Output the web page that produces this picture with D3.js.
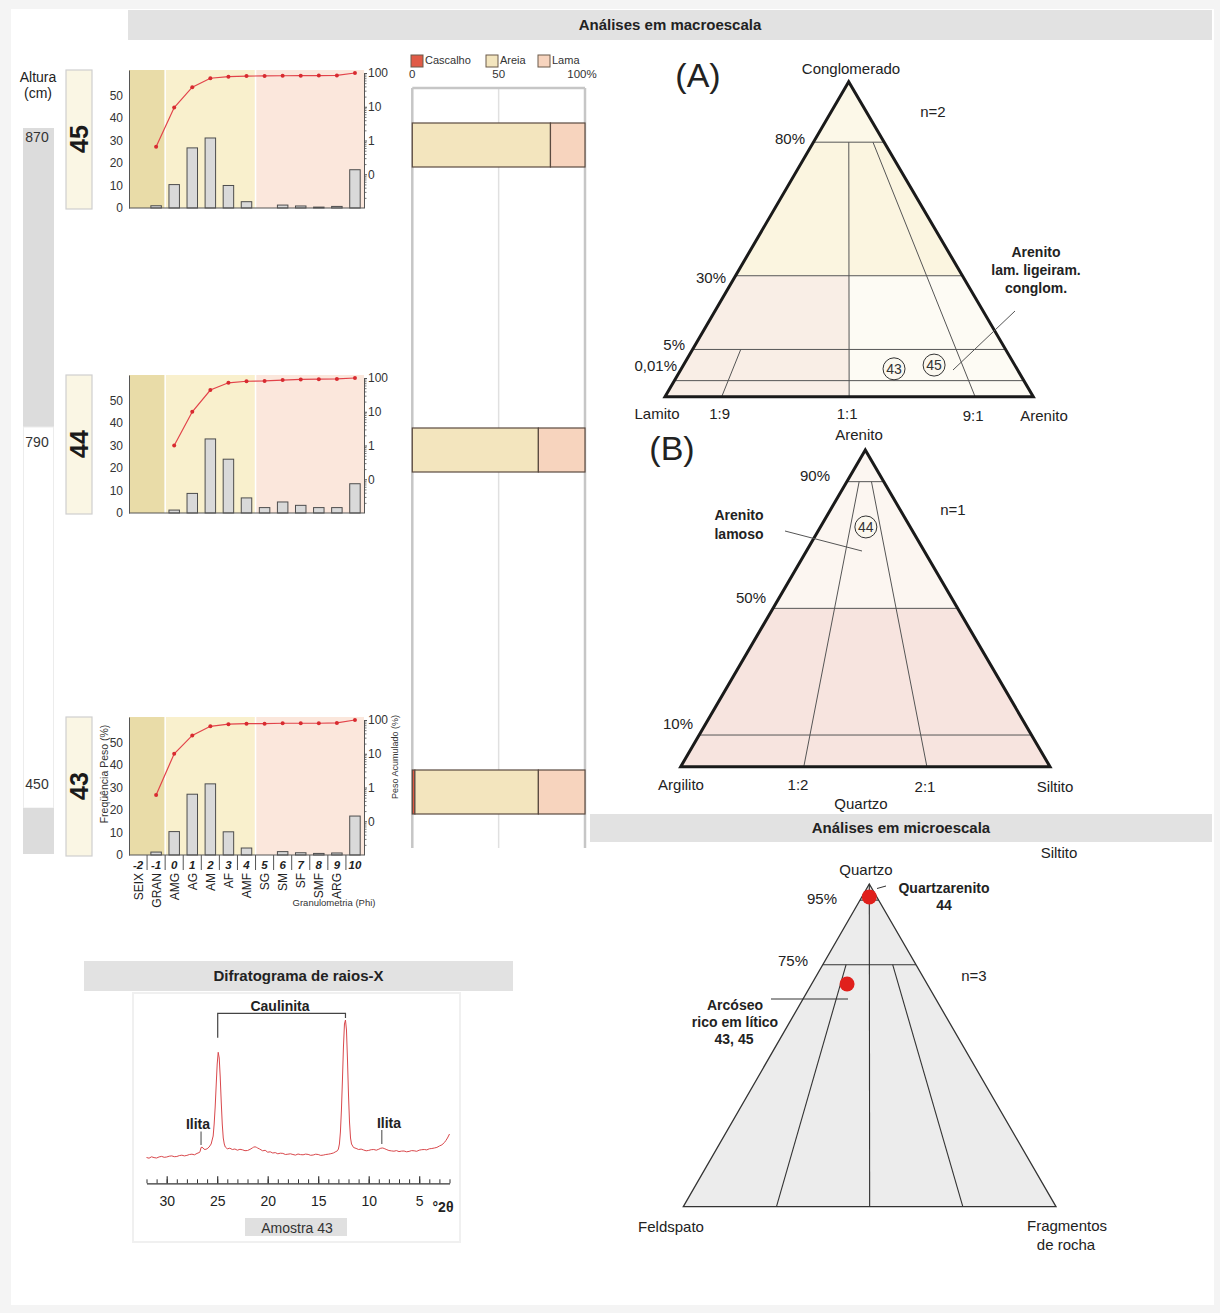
<!DOCTYPE html>
<html>
<head>
<meta charset="utf-8">
<script src="https://cdn.jsdelivr.net/npm/d3@7"></script>
<style>
  body { margin: 0; background: #f4f4f4; }
  svg { display: block; font-family: "Liberation Sans", Arial, sans-serif; }
</style>
</head>
<body>
<svg id="fig" width="1220" height="1313"></svg>
<script>
// ---------- Granulometria ----------
const phiClasses = [-2, -1, 0, 1, 2, 3, 4, 5, 6, 7, 8, 9, 10];
const classNames = ["SEIX", "GRAN", "AMG", "AG", "AM", "AF", "AMF", "SG", "SM", "SF", "SMF", "ARG", ""];
const sampleIds = ["45", "44", "43"];
const sampleHeights = [870, 790, 450];

// Frequência em peso (%) por classe phi
const freq45 = [0, 1.0, 10.4, 26.7, 31.1, 10.0, 2.8, 0, 1.3, 0.9, 0.4, 0.7, 17.0];
const freq44 = [0, 0, 1.3, 8.7, 32.9, 23.9, 6.7, 2.4, 4.9, 3.4, 2.4, 2.4, 13.0];
const freq43 = [0, 1.3, 10.4, 27.0, 31.6, 10.3, 3.1, 0, 1.5, 1.0, 0.7, 0.9, 17.3];

// Peso acumulado (%) por classe phi
const cum45 = [null, 0.65, 9.5, 38, 70, 78, 81, 82, 83, 83.5, 84, 85, 100];
const cum44 = [null, null, 1.0, 10, 44, 72, 80, 82, 87, 91, 92, 94, 100];
const cum43 = [null, 0.6, 10, 35, 65, 75, 78, 78, 80, 80, 80, 82, 100];

const freqTicks = [0, 10, 20, 30, 40, 50];
const cumTicks = [0.1, 1, 10, 100];
const cumTickLabels = ["0", "1", "10", "100"];

// Proporções texturais (%)
const texClasses = ["Cascalho", "Areia", "Lama"];
const cascalho = [0, 0, 1.5];
const areia = [80, 73, 71.5];
const lama = [20, 27, 27];
const texTicks = [0, 50, 100];
const texTickLabels = ["0", "50", "100%"];

// Diagrama (A): cascalho / areia / lama
const triASamples = ["43", "45"];
const triAGravel = [1.9, 2.5];
const triASand = [64.4, 78.0];
const triAMud = [33.7, 19.5];
const triALevels = [80, 30, 5, 0.01];
const triALevelLabels = ["80%", "30%", "5%", "0,01%"];
const triARatios = [0.1, 0.5, 0.9];
const triARatioLabels = ["1:9", "1:1", "9:1"];

// Diagrama (B): areia / silte / argila
const triBSamples = ["44"];
const triBSand = [75.7];
const triBSilt = [12.3];
const triBClay = [12.0];
const triBLevels = [90, 50, 10];
const triBLevelLabels = ["90%", "50%", "10%"];
const triBRatios = [1 / 3, 2 / 3];
const triBRatioLabels = ["1:2", "2:1"];

// Diagrama QFR (microescala)
const qfrNames = ["Quartzarenito 44", "Arcóseo rico em lítico 43, 45"];
const qfrQ = [96, 69];
const qfrF = [2, 21.5];
const qfrR = [2, 9.5];
const qfrLevels = [95, 75];
const qfrLevelLabels = ["95%", "75%"];
const qfrRatios = [0.25, 0.5, 0.75];

// Difratograma (Amostra 43): °2θ e intensidade (u.a.)
const xrdTheta = [
  32.0, 31.75, 31.5, 31.25, 31.0, 30.75, 30.5, 30.25, 30.0, 29.75, 29.5, 29.25, 29.0, 28.75, 28.5, 28.25,
  28.0, 27.75, 27.5, 27.25, 27.0, 26.8, 26.7, 26.6, 26.5, 26.4, 26.3, 26.2, 26.0, 25.8, 25.6, 25.4,
  25.3, 25.2, 25.1, 25.0, 24.9, 24.8, 24.7, 24.6, 24.5, 24.4, 24.3, 24.2, 24.0, 23.75, 23.5, 23.25,
  23.0, 22.75, 22.5, 22.25, 22.0, 21.75, 21.5, 21.4, 21.25, 21.1, 21.0, 20.8, 20.5, 20.25, 20.0, 19.75,
  19.5, 19.25, 19.0, 18.75, 18.5, 18.25, 18.0, 17.75, 17.5, 17.25, 17.0, 16.75, 16.5, 16.25, 16.0, 15.75,
  15.5, 15.25, 15.0, 14.75, 14.5, 14.25, 14.0, 13.75, 13.5, 13.25, 13.1, 13.0, 12.9, 12.8, 12.7, 12.6,
  12.5, 12.4, 12.3, 12.2, 12.1, 12.0, 11.9, 11.8, 11.7, 11.5, 11.25, 11.0, 10.75, 10.5, 10.25, 10.0,
  9.75, 9.5, 9.25, 9.0, 8.8, 8.6, 8.4, 8.2, 8.0, 7.75, 7.5, 7.25, 7.0, 6.75, 6.5, 6.25,
  6.0, 5.75, 5.5, 5.25, 5.0, 4.75, 4.5, 4.25, 4.0, 3.75, 3.5, 3.25, 3.0, 2.75, 2.5, 2.35,
  2.2, 2.0];
const xrdCounts = [
  425, 418, 432, 424, 420, 431, 436, 427, 430, 438, 441, 433, 435, 444, 448, 441,
  446, 455, 458, 452, 466, 474, 482, 525, 528, 520, 508, 505, 512, 530, 560, 640,
  760, 930, 1150, 1360, 1477, 1420, 1230, 980, 760, 620, 560, 530, 512, 518, 505, 510,
  498, 507, 502, 493, 495, 506, 522, 528, 532, 526, 520, 510, 492, 497, 478, 482,
  470, 474, 462, 468, 466, 455, 458, 462, 455, 449, 460, 454, 452, 459, 456, 447,
  450, 458, 455, 446, 449, 455, 458, 463, 470, 484, 492, 510, 560, 680, 900, 1200,
  1530, 1760, 1800, 1700, 1400, 1050, 780, 620, 560, 525, 516, 505, 509, 500, 492, 496,
  503, 505, 498, 508, 518, 520, 512, 503, 495, 491, 488, 494, 484, 489, 490, 482,
  486, 494, 492, 487, 498, 503, 505, 501, 512, 515, 520, 526, 540, 552, 575, 596,
  620, 660];
const xrdMajorTicks = [30, 25, 20, 15, 10, 5];

// ---------- Drawing ----------
const svg = d3.select("#fig");
const FONT_COLOR = "#222";

svg.append("rect").attr("x", 11).attr("y", 9).attr("width", 1203).attr("height", 1296).attr("fill", "#fff");

function header(x, y, w, h, label) {
  svg.append("rect").attr("x", x).attr("y", y).attr("width", w).attr("height", h).attr("fill", "#e2e2e2");
  svg.append("text").attr("x", x + w / 2).attr("y", y + h / 2 + 5).attr("text-anchor", "middle")
    .attr("font-size", 15).attr("font-weight", "bold").attr("fill", FONT_COLOR).text(label);
}
header(128, 10, 1084, 30, "Análises em macroescala");
header(590, 814, 622, 28, "Análises em microescala");
header(84, 961, 429, 30, "Difratograma de raios-X");

function label(x, y, txt, opts = {}) {
  return svg.append("text").attr("x", x).attr("y", y)
    .attr("text-anchor", opts.anchor || "middle")
    .attr("font-size", opts.size || 15)
    .attr("font-weight", opts.bold ? "bold" : "normal")
    .attr("fill", opts.color || FONT_COLOR)
    .text(txt);
}

// ----- coluna de altura -----
label(38, 82, "Altura", { size: 14 });
label(38, 98, "(cm)", { size: 14 });
const col = svg.append("g");
col.append("rect").attr("x", 23).attr("y", 128).attr("width", 31).attr("height", 299).attr("fill", "#dcdcdc");
col.append("rect").attr("x", 23.5).attr("y", 427).attr("width", 30).attr("height", 381)
  .attr("fill", "#fff").attr("stroke", "#ececec");
col.append("rect").attr("x", 23).attr("y", 808).attr("width", 31).attr("height", 46).attr("fill", "#dcdcdc");

// ----- histogramas -----
const panelTops = [70, 375, 717];
const panelH = 138;
const freqSeries = [freq45, freq44, freq43];
const cumSeries = [cum45, cum44, cum43];

const x = d3.scaleBand().domain(phiClasses).range([129, 364]).paddingInner(0.42).paddingOuter(0.21);
const step = x.step();
const xc = p => x(p) + x.bandwidth() / 2;

sampleIds.forEach((id, i) => {
  const top = panelTops[i];
  const base = top + panelH;
  const g = svg.append("g");

  // altura da amostra
  label(37, top + 72, String(sampleHeights[i]), { size: 14, color: "#333" });

  // caixa com número da amostra
  g.append("rect").attr("x", 66).attr("y", top).attr("width", 26).attr("height", panelH + 1)
    .attr("fill", "#faf6e4").attr("stroke", "#cfcfcf").attr("stroke-width", 1.2);
  g.append("text").attr("transform", `translate(88,${top + panelH / 2}) rotate(-90)`)
    .attr("text-anchor", "middle").attr("font-size", 25).attr("font-weight", "bold")
    .attr("fill", "#1a1a1a").text(id);

  const y = d3.scaleLinear().domain([0, 61.3]).range([base, top]);
  const yLog = d3.scaleLog().domain([0.01, 100]).range([base, top + 3]);

  // faixas: cascalho / areia / lama
  const x0 = x.range()[0];
  g.append("rect").attr("x", x0).attr("y", top).attr("width", 2 * step).attr("height", panelH).attr("fill", "#e9dca8");
  g.append("rect").attr("x", x0 + 2 * step).attr("y", top).attr("width", 5 * step).attr("height", panelH).attr("fill", "#f9f0cd");
  g.append("rect").attr("x", x0 + 7 * step).attr("y", top).attr("width", 6 * step).attr("height", panelH).attr("fill", "#fbe7dc");
  [2, 7].forEach(k => g.append("line").attr("x1", x0 + k * step).attr("x2", x0 + k * step)
    .attr("y1", top).attr("y2", base).attr("stroke", "#fff").attr("stroke-width", 1.5));

  // barras
  g.selectAll("rect.bar").data(phiClasses.map((p, j) => ({ p, v: freqSeries[i][j] })).filter(d => d.v > 0))
    .join("rect").attr("class", "bar")
    .attr("x", d => x(d.p)).attr("width", x.bandwidth())
    .attr("y", d => y(d.v)).attr("height", d => base - y(d.v))
    .attr("fill", "#d9d9d9").attr("stroke", "#4d4d4d").attr("stroke-width", 1);

  // curva acumulada
  const cumPts = phiClasses.map((p, j) => ({ p, v: cumSeries[i][j] })).filter(d => d.v != null);
  g.append("path").datum(cumPts)
    .attr("d", d3.line().x(d => xc(d.p)).y(d => yLog(d.v)))
    .attr("fill", "none").attr("stroke", "#e2434a").attr("stroke-width", 1.2);
  g.selectAll("circle.cum").data(cumPts).join("circle").attr("class", "cum")
    .attr("cx", d => xc(d.p)).attr("cy", d => yLog(d.v)).attr("r", 2).attr("fill", "#d82b30");

  // eixo esquerdo (frequência)
  const axL = g.append("g").attr("transform", `translate(${x0},0)`)
    .call(d3.axisLeft(y).tickValues(freqTicks).tickSize(0).tickPadding(6).tickSizeOuter(0));
  axL.select(".domain").attr("stroke", "#555");
  axL.selectAll("text").attr("font-size", 12).attr("fill", "#333").attr("font-family", "Liberation Sans, Arial");

  // eixo direito (acumulado, log)
  const xr = x.range()[1];
  const minor = [];
  [0.01, 0.1, 1, 10].forEach(d => { for (let k = 2; k <= 9; k++) minor.push(d * k); });
  const axM = g.append("g").attr("transform", `translate(${xr},0)`)
    .call(d3.axisRight(yLog).tickValues(minor).tickSize(2.5).tickFormat(""));
  axM.select(".domain").remove();
  axM.selectAll("line").attr("stroke", "#777");
  const axR = g.append("g").attr("transform", `translate(${xr},0)`)
    .call(d3.axisRight(yLog).tickValues(cumTicks).tickSize(3).tickPadding(1)
      .tickFormat((d, k) => cumTickLabels[k]).tickSizeOuter(0));
  axR.select(".domain").attr("stroke", "#555");
  axR.selectAll("line").attr("stroke", "#555");
  axR.selectAll("text").attr("font-size", 12).attr("fill", "#333").attr("font-family", "Liberation Sans, Arial");

  // linha de base
  g.append("line").attr("x1", x0).attr("x2", xr).attr("y1", base).attr("y2", base)
    .attr("stroke", "#555").attr("stroke-width", 1);

  if (i === 2) {
    const ax = svg.append("g");
    for (let k = 1; k < phiClasses.length; k++) {
      ax.append("line").attr("x1", x0 + k * step).attr("x2", x0 + k * step)
        .attr("y1", base).attr("y2", base + 15).attr("stroke", "#555");
    }
    phiClasses.forEach((p, j) => {
      ax.append("text").attr("x", xc(p)).attr("y", base + 14).attr("text-anchor", "middle")
        .attr("font-size", 11.5).attr("font-weight", "bold").attr("font-style", "italic")
        .attr("fill", "#222").text(String(p));
      if (classNames[j]) {
        ax.append("text").attr("transform", `translate(${xc(p) + 4.5},${base + 18}) rotate(-90)`)
          .attr("text-anchor", "end").attr("font-size", 12).attr("fill", "#222").text(classNames[j]);
      }
    });
    ax.append("text").attr("x", 334).attr("y", 906).attr("text-anchor", "middle")
      .attr("font-size", 9.5).attr("fill", "#333").text("Granulometria (Phi)");
    ax.append("text").attr("transform", `translate(108,${top + 57}) rotate(-90)`)
      .attr("text-anchor", "middle").attr("font-size", 10.5).attr("fill", "#333").text("Freqüência Peso (%)");
    ax.append("text").attr("transform", `translate(398,${top + 40}) rotate(-90)`)
      .attr("text-anchor", "middle").attr("font-size", 9).attr("fill", "#333").text("Peso Acumulado (%)");
  }
});

// ----- barras texturais -----
const tx = d3.scaleLinear().domain([0, 100]).range([412.3, 585]);
const texColors = ["#e05a46", "#f3e5be", "#f7d4be"];
const tg = svg.append("g");
texTicks.forEach((t, k) => {
  tg.append("line").attr("x1", tx(t)).attr("x2", tx(t)).attr("y1", 88).attr("y2", 848)
    .attr("stroke", t === 50 ? "#e0e0e0" : "#c6c6c6").attr("stroke-width", t === 50 ? 1.5 : 2.5);
  tg.append("text").attr("x", tx(t) - (t === 100 ? 3 : 0)).attr("y", 78).attr("text-anchor", "middle")
    .attr("font-size", 11.5).attr("fill", "#333").text(texTickLabels[k]);
});
tg.append("line").attr("x1", tx(0)).attr("x2", tx(100)).attr("y1", 88).attr("y2", 88)
  .attr("stroke", "#c6c6c6").attr("stroke-width", 2.5);

const legendX = [411, 486, 538];
texClasses.forEach((c, k) => {
  tg.append("rect").attr("x", legendX[k]).attr("y", 55).attr("width", 12).attr("height", 12)
    .attr("fill", texColors[k]).attr("stroke", "#6b5a4a").attr("stroke-width", 1);
  tg.append("text").attr("x", legendX[k] + 14).attr("y", 64).attr("font-size", 11).attr("fill", "#333").text(c);
});

const texRows = sampleIds.map((id, i) => ({ id, Cascalho: cascalho[i], Areia: areia[i], Lama: lama[i] }));
const stacked = d3.stack().keys(texClasses)(texRows);
stacked.forEach((layer, k) => {
  tg.selectAll(null).data(layer.filter(d => d[1] - d[0] > 0)).join("rect")
    .attr("x", d => tx(d[0])).attr("width", d => tx(d[1]) - tx(d[0]))
    .attr("y", d => panelTops[sampleIds.indexOf(d.data.id)] + 53).attr("height", 44)
    .attr("fill", texColors[k]).attr("stroke", "#5a4a40").attr("stroke-width", 1.2);
});

// ----- triângulos -----
function triPoint(tri, t, b) {
  const bx = tri.L[0] + b * (tri.R[0] - tri.L[0]);
  const by = tri.L[1] + b * (tri.R[1] - tri.L[1]);
  return [bx + t * (tri.A[0] - bx), by + t * (tri.A[1] - by)];
}
const poly = pts => "M" + pts.map(p => p.join(",")).join("L") + "Z";
const seg = (a, b) => `M${a[0]},${a[1]}L${b[0]},${b[1]}`;

function circleLabel(p, txt) {
  svg.append("circle").attr("cx", p[0]).attr("cy", p[1]).attr("r", 11)
    .attr("fill", "#fbf8ef").attr("stroke", "#333").attr("stroke-width", 1);
  svg.append("text").attr("x", p[0]).attr("y", p[1] + 5).attr("text-anchor", "middle")
    .attr("font-size", 14).attr("fill", "#333").text(txt);
}

// (A) Cascalho-Areia-Lama (escala de cascalho não linear)
const triA = { A: [848.7, 81.7], L: [665, 396.7], R: [1033.3, 396.7] };
const gravelScale = d3.scaleLinear().domain([0, 0.01, 5, 30, 80, 100]).range([0, 0.051, 0.15, 0.384, 0.808, 1]);
const sandRatioScale = d3.scaleLinear().domain([0, 0.1, 0.5, 0.9, 1]).range([0, 0.154, 0.5, 0.842, 1]);
{
  const g = svg.append("g");
  const t80 = gravelScale(80), t30 = gravelScale(30), bMid = sandRatioScale(0.5);
  g.append("path").attr("d", poly([triPoint(triA, t80, 0), triA.A, triPoint(triA, t80, 1)])).attr("fill", "#fcf8e8");
  g.append("path").attr("d", poly([triPoint(triA, t30, 0), triPoint(triA, t80, 0), triPoint(triA, t80, 1), triPoint(triA, t30, 1)])).attr("fill", "#fbf5e0");
  g.append("path").attr("d", poly([triA.L, triPoint(triA, t30, 0), triPoint(triA, t30, bMid), triPoint(triA, 0, bMid)])).attr("fill", "#f9eee6");
  g.append("path").attr("d", poly([triPoint(triA, 0, bMid), triPoint(triA, t30, bMid), triPoint(triA, t30, 1), triA.R])).attr("fill", "#fdfbf4");

  triALevels.forEach(lv => {
    const t = gravelScale(lv);
    g.append("path").attr("d", seg(triPoint(triA, t, 0), triPoint(triA, t, 1))).attr("stroke", "#555").attr("stroke-width", 1);
  });
  const ratioStart = [5, 80, 80];
  triARatios.forEach((r, k) => {
    const b = sandRatioScale(r);
    g.append("path").attr("d", seg(triPoint(triA, gravelScale(ratioStart[k]), b), triPoint(triA, 0, b)))
      .attr("stroke", "#555").attr("stroke-width", 1);
    const bp = triPoint(triA, 0, b);
    label(bp[0] - 2, 419 + (k === 2 ? 2 : 0), triARatioLabels[k]);
  });
  g.append("path").attr("d", poly([triA.A, triA.L, triA.R])).attr("fill", "none")
    .attr("stroke", "#1a1a1a").attr("stroke-width", 3).attr("stroke-linejoin", "miter");

  const lvPos = [[805, 144], [726, 283], [685, 350], [677, 371]];
  triALevelLabels.forEach((t, k) => label(lvPos[k][0], lvPos[k][1], t, { anchor: "end" }));
  label(698, 87, "(A)", { size: 34 });
  label(851, 74, "Conglomerado");
  label(933, 117, "n=2");
  label(657, 419, "Lamito");
  label(1044, 421, "Arenito");
  label(1036, 257, "Arenito", { size: 14, bold: true });
  label(1036, 275, "lam. ligeiram.", { size: 14, bold: true });
  label(1036, 293, "conglom.", { size: 14, bold: true });
  svg.append("path").attr("d", "M1015,311L953,370").attr("stroke", "#555").attr("stroke-width", 1);

  triASamples.forEach((s, k) => {
    const tot = triASand[k] + triAMud[k];
    const p = triPoint(triA, gravelScale(triAGravel[k]), sandRatioScale(triASand[k] / tot));
    circleLabel(p, s);
  });
}

// (B) Areia-Silte-Argila
const triB = { A: [865.3, 450], L: [680.7, 766.7], R: [1050, 766.7] };
{
  const g = svg.append("g");
  const t50 = 0.5;
  g.append("path").attr("d", poly([triPoint(triB, t50, 0), triB.A, triPoint(triB, t50, 1)])).attr("fill", "#fcf6f1");
  g.append("path").attr("d", poly([triB.L, triPoint(triB, t50, 0), triPoint(triB, t50, 1), triB.R])).attr("fill", "#f7e4df");
  triBLevels.forEach(lv => {
    const t = lv / 100;
    g.append("path").attr("d", seg(triPoint(triB, t, 0), triPoint(triB, t, 1))).attr("stroke", "#555").attr("stroke-width", 1);
  });
  triBRatios.forEach((r, k) => {
    g.append("path").attr("d", seg(triPoint(triB, 0.9, r), triPoint(triB, 0, r))).attr("stroke", "#555").attr("stroke-width", 1);
  });
  g.append("path").attr("d", poly([triB.A, triB.L, triB.R])).attr("fill", "none")
    .attr("stroke", "#1a1a1a").attr("stroke-width", 3).attr("stroke-linejoin", "miter");

  const lvPos = [[830, 481], [766, 603], [693, 729]];
  triBLevelLabels.forEach((t, k) => label(lvPos[k][0], lvPos[k][1], t, { anchor: "end" }));
  label(798, 790, triBRatioLabels[0]);
  label(925, 792, triBRatioLabels[1]);
  label(672, 460, "(B)", { size: 34 });
  label(859, 440, "Arenito");
  label(953, 515, "n=1");
  label(681, 790, "Argilito");
  label(1055, 792, "Siltito");
  label(861, 809, "Quartzo");
  label(739, 520, "Arenito", { size: 14, bold: true });
  label(739, 539, "lamoso", { size: 14, bold: true });
  svg.append("path").attr("d", "M785,531L862,551").attr("stroke", "#555").attr("stroke-width", 1);

  triBSamples.forEach((s, k) => {
    const p = triPoint(triB, triBSand[k] / 100, triBSilt[k] / (triBSilt[k] + triBClay[k]));
    circleLabel(p, s);
  });
}

// QFR (microescala)
const triC = { A: [869.3, 884], L: [683.3, 1206.7], R: [1056, 1206.7] };
{
  const g = svg.append("g");
  g.append("path").attr("d", poly([triC.A, triC.L, triC.R])).attr("fill", "#ececec");
  qfrLevels.forEach(lv => {
    const t = lv / 100;
    g.append("path").attr("d", seg(triPoint(triC, t, 0), triPoint(triC, t, 1))).attr("stroke", "#333").attr("stroke-width", 1.1);
  });
  qfrRatios.forEach(r => {
    const tStart = r === 0.5 ? 1 : 0.75;
    g.append("path").attr("d", seg(triPoint(triC, tStart, r), triPoint(triC, 0, r))).attr("stroke", "#333").attr("stroke-width", 1.1);
  });
  g.append("path").attr("d", poly([triC.A, triC.L, triC.R])).attr("fill", "none")
    .attr("stroke", "#333").attr("stroke-width", 1.3);

  label(866, 875, "Quartzo");
  label(837, 904, qfrLevelLabels[0], { anchor: "end" });
  label(808, 966, qfrLevelLabels[1], { anchor: "end" });
  label(974, 981, "n=3");
  label(671, 1232, "Feldspato");
  label(1067, 1231, "Fragmentos");
  label(1066, 1250, "de rocha");
  label(1059, 858, "Siltito");
  label(944, 893, "Quartzarenito", { size: 14, bold: true });
  label(944, 910, "44", { size: 14, bold: true });
  label(735, 1010, "Arcóseo", { size: 14, bold: true });
  label(735, 1027, "rico em lítico", { size: 14, bold: true });
  label(734, 1044, "43, 45", { size: 14, bold: true });
  svg.append("path").attr("d", "M877,888.5L886,886").attr("stroke", "#333").attr("stroke-width", 1);
  svg.append("path").attr("d", "M771,999L848,999").attr("stroke", "#333").attr("stroke-width", 1);

  qfrNames.forEach((n, k) => {
    const tot = qfrQ[k] + qfrF[k] + qfrR[k];
    const p = triPoint(triC, qfrQ[k] / tot, qfrR[k] / (qfrF[k] + qfrR[k]));
    g.append("circle").attr("cx", p[0]).attr("cy", p[1]).attr("r", 7.5).attr("fill", "#e0201c");
  });
}

// ----- difratograma -----
{
  const g = svg.append("g");
  g.append("rect").attr("x", 133).attr("y", 993).attr("width", 327).attr("height", 249)
    .attr("fill", "#fff").attr("stroke", "#f0f0f0").attr("stroke-width", 2);
  const xx = d3.scaleLinear().domain([32, 2]).range([146.5, 449.5]);
  const yy = d3.scaleLinear().domain([0, 2000]).range([1200, 1000]);
  const pts = xrdTheta.map((t, k) => [t, xrdCounts[k]]);
  g.append("path").datum(pts)
    .attr("d", d3.line().x(d => xx(d[0])).y(d => yy(d[1])))
    .attr("fill", "none").attr("stroke", "#d9484c").attr("stroke-width", 1);

  const axisY = 1183.3;
  const axMinor = g.append("g").attr("transform", `translate(0,${axisY})`)
    .call(d3.axisBottom(xx).tickValues(d3.range(2, 33, 1)).tickSize(-4).tickFormat("").tickSizeOuter(0));
  axMinor.selectAll("line").attr("stroke", "#333");
  axMinor.select(".domain").attr("stroke", "#333").attr("stroke-width", 1.3);
  const axMajor = g.append("g").attr("transform", `translate(0,${axisY})`)
    .call(d3.axisBottom(xx).tickValues(xrdMajorTicks).tickSize(-7).tickPadding(13));
  axMajor.select(".domain").remove();
  axMajor.selectAll("line").attr("stroke", "#333").attr("stroke-width", 1.2);
  axMajor.selectAll("text").attr("font-size", 14).attr("fill", "#222").attr("font-family", "Liberation Sans, Arial");
  label(443, 1212, "°2θ", { size: 14, bold: true });

  g.append("rect").attr("x", 245).attr("y", 1218).attr("width", 102).attr("height", 18).attr("fill", "#e0e0e0");
  label(297, 1233, "Amostra 43", { size: 14, color: "#333" });

  g.append("path").attr("d", `M${xx(24.95)},1037.7V1013.3H${xx(12.3)}V1018`)
    .attr("fill", "none").attr("stroke", "#444").attr("stroke-width", 1.2);
  label(280, 1011, "Caulinita", { size: 14, bold: true });
  label(198, 1129, "Ilita", { size: 14, bold: true });
  label(389, 1128, "Ilita", { size: 14, bold: true });
  g.append("line").attr("x1", xx(26.6)).attr("x2", xx(26.6)).attr("y1", 1131.5).attr("y2", 1145).attr("stroke", "#444");
  g.append("line").attr("x1", xx(8.7)).attr("x2", xx(8.7)).attr("y1", 1130).attr("y2", 1144).attr("stroke", "#444");
}
</script>
</body>
</html>
